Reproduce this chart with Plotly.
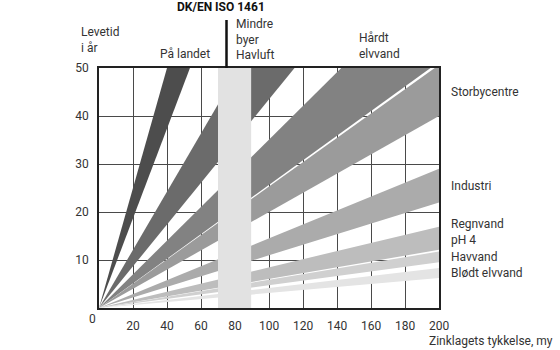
import plotly.graph_objects as go

# Zinc coating lifetime by environment: lifetime (years) = thickness (µm) / corrosion rate (µm/year)
environments = ["På landet", "Mindre byer, havluft", "Hårdt elvvand", "Storbycentre",
                "Industri", "Regnvand pH 4", "Havvand", "Blødt elvvand"]
rate_low = [0.80, 1.65, 2.85, 3.95, 6.9, 11.8, 17.0, 24.0]
rate_high = [1.07, 2.30, 3.90, 5.00, 9.1, 16.5, 21.0, 32.0]
fill_colors = ["#4d4d4d", "#6b6b6b", "#828282", "#9b9b9b",
               "#ababab", "#bdbdbd", "#d0d0d0", "#e4e4e4"]

x_max = 200
y_max = 50
x_ticks = [20, 40, 60, 80, 100, 120, 140, 160, 180, 200]
y_ticks = [10, 20, 30, 40, 50]

# Standard minimum thickness range (DK/EN ISO 1461)
iso_band = [70, 89.5]
iso_mark = 75

fig = go.Figure()

for name, lo, hi, col in zip(environments, rate_low, rate_high, fill_colors):
    fig.add_trace(go.Scatter(
        x=[0, x_max, x_max, 0],
        y=[0, x_max / lo, x_max / hi, 0],
        mode="lines", fill="toself", fillcolor=col,
        line=dict(width=0), name=name, hoverinfo="name", showlegend=False,
    ))

fig.add_trace(go.Scatter(
    x=[iso_band[0], iso_band[1], iso_band[1], iso_band[0], iso_band[0]],
    y=[0, 0, y_max, y_max, 0],
    mode="lines", fill="toself", fillcolor="#e2e2e2",
    line=dict(width=0), hoverinfo="skip", showlegend=False,
))

fig.add_shape(type="line", xref="x", yref="paper", x0=iso_mark, x1=iso_mark,
              y0=1.0, y1=1.2, line=dict(color="#111111", width=2.5))

font = dict(family="Roboto", size=12, color="#333333")

def note(text, x, y, xanchor="left", xref="paper", yref="paper", **kw):
    fig.add_annotation(text=text, x=x, y=y, xref=xref, yref=yref, xanchor=xanchor,
                       yanchor="middle", showarrow=False, align="left",
                       font=kw.pop("font", font), **kw)

# pixel -> paper helpers (plot area 99..439 x 68..308)
def px(xp):
    return (xp - 99) / 340

def py(yp):
    return (308 - yp) / 240

note("Levetid<br>i år", px(79), py(40))
note("På landet", px(185), py(54), xanchor="center")
note("<b>DK/EN ISO 1461</b>", px(221), py(7), xanchor="center",
     font=dict(family="Roboto", size=12, color="#111111"))
note("Mindre<br>byer<br>Havluft", px(234), py(39))
note("Hårdt<br>elvvand", px(357), py(46))
note("Storbycentre", px(449), py(92))
note("Industri", px(449), py(186))
note("Regnvand<br>pH 4", px(449), py(232))
note("Havvand", px(449), py(257))
note("Blødt elvvand", px(449), py(273))
note("0", px(92), py(319), xanchor="center")
note("Zinklagets tykkelse, my", px(555), py(341), xanchor="right")

axis_common = dict(
    showgrid=True, gridcolor="#4a4a4a", gridwidth=1.2,
    showline=True, linecolor="#222222", linewidth=1.5, mirror=True,
    zeroline=False, ticks="", layer="above traces",
    tickfont=font, fixedrange=True,
)

fig.update_xaxes(range=[0, x_max], tickvals=x_ticks, ticklabelstandoff=6, **axis_common)
fig.update_yaxes(range=[0, y_max], tickvals=y_ticks, ticklabelstandoff=6, **axis_common)

fig.update_layout(
    width=560, height=350,
    margin=dict(l=99, r=121, t=68, b=42),
    plot_bgcolor="white", paper_bgcolor="white",
    font=font,
)

fig.write_html("out.html")
